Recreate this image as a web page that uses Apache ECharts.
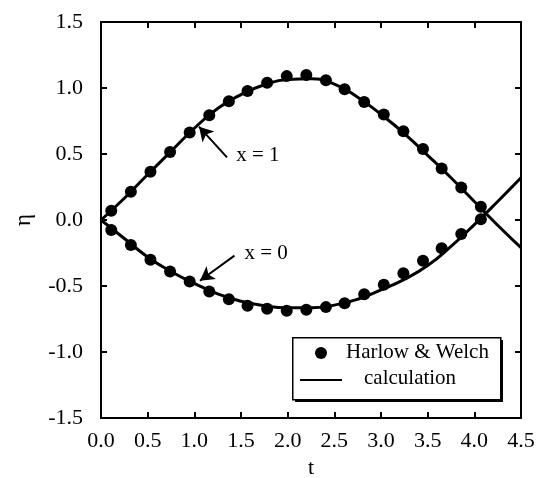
<!DOCTYPE html>
<html lang="en">
<head>
    <meta charset="UTF-8">
    <title>eta vs t</title>
    <script src="https://cdn.jsdelivr.net/npm/echarts@6/dist/echarts.min.js"></script>
    <style>
        body { margin: 0; background: #fff; }
    </style>
</head>
<body>
        <div id="main" style="width: 538px;height:478px;"></div>
        <script type="text/javascript">
            // measured points (Harlow & Welch)
            var tPts = [0.11, 0.32, 0.53, 0.74, 0.95, 1.16, 1.37, 1.57, 1.78, 1.99, 2.20, 2.41, 2.61, 2.82, 3.03, 3.24, 3.45, 3.65, 3.86, 4.07];
            var hwX1 = [0.07, 0.214, 0.365, 0.516, 0.663, 0.794, 0.90, 0.977, 1.04, 1.09, 1.098, 1.058, 0.99, 0.894, 0.799, 0.673, 0.537, 0.39, 0.247, 0.10];
            var hwX0 = [-0.076, -0.189, -0.302, -0.39, -0.466, -0.542, -0.60, -0.65, -0.673, -0.688, -0.68, -0.66, -0.63, -0.562, -0.491, -0.403, -0.308, -0.214, -0.106, 0.005];

            // calculation curves
            var tCalc = [0, 0.25, 0.5, 0.75, 1.0, 1.25, 1.5, 1.75, 2.0, 2.25, 2.5, 2.75, 3.0, 3.25, 3.5, 3.75, 4.0, 4.25, 4.5];
            var calcX1 = [0, 0.165, 0.345, 0.52, 0.695, 0.845, 0.95, 1.025, 1.065, 1.07, 1.03, 0.93, 0.80, 0.655, 0.49, 0.32, 0.14, -0.04, -0.21];
            var calcX0 = [0, -0.14, -0.28, -0.39, -0.48, -0.56, -0.615, -0.65, -0.665, -0.665, -0.645, -0.60, -0.53, -0.45, -0.345, -0.20, -0.035, 0.14, 0.32];

            // annotation arrows: [tail, tip] in data coords
            var arrowX1 = [[1.35, 0.475], [1.05, 0.707]];
            var arrowX0 = [[1.43, -0.27], [1.06, -0.46]];

            function pairs(xs, ys) {
                var out = [];
                for (var i = 0; i < xs.length; i++) out.push([xs[i], ys[i]]);
                return out;
            }

            var font = 'Liberation Serif';
            function axisCommon(o) {
                o.axisLine = { show: true, onZero: false, lineStyle: { color: '#000', width: 2 } };
                o.axisTick = { show: true, inside: true, length: 6, lineStyle: { color: '#000', width: 2 } };
                o.splitLine = { show: false };
                return o;
            }

            var myChart = echarts.init(document.getElementById('main'));
            var option = {
                animation: false,
                backgroundColor: '#fff',
                textStyle: { fontFamily: font, color: '#000' },
                grid: { left: 101, right: 17, top: 22, bottom: 60, outerBoundsMode: 'none', containLabel: false },
                xAxis: [
                    axisCommon({
                        type: 'value', min: 0, max: 4.5, interval: 0.5, position: 'bottom',
                        name: 't', nameLocation: 'middle', nameGap: 39,
                        nameTextStyle: { fontFamily: font, fontSize: 22, color: '#000' },
                        axisLabel: { fontFamily: font, fontSize: 22, color: '#000', margin: 12,
                            formatter: function (v) { return v.toFixed(1); } }
                    }),
                    axisCommon({
                        type: 'value', min: 0, max: 4.5, interval: 0.5, position: 'top',
                        axisLabel: { show: false }
                    })
                ],
                yAxis: [
                    axisCommon({
                        type: 'value', min: -1.5, max: 1.5, interval: 0.5, position: 'left',
                        name: 'η', nameLocation: 'middle', nameGap: 66,
                        nameTextStyle: { fontFamily: font, fontSize: 23, color: '#000' },
                        axisLabel: { fontFamily: font, fontSize: 22, color: '#000', margin: 18,
                            formatter: function (v) { return v.toFixed(1); } }
                    }),
                    axisCommon({
                        type: 'value', min: -1.5, max: 1.5, interval: 0.5, position: 'right',
                        axisLabel: { show: false }
                    })
                ],
                series: [
                    {
                        name: 'calculation', type: 'line', smooth: true, showSymbol: false,
                        data: pairs(tCalc, calcX1),
                        lineStyle: { color: '#000', width: 3 },
                        markLine: {
                            silent: true, symbol: ['none', 'arrow'], symbolSize: [12, 14],
                            lineStyle: { color: '#000', width: 2, type: 'solid' },
                            label: { show: false },
                            data: [
                                [{ coord: arrowX1[0] }, { coord: arrowX1[1] }],
                                [{ coord: arrowX0[0] }, { coord: arrowX0[1] }]
                            ]
                        },
                        markPoint: {
                            symbol: 'circle', symbolSize: 0,
                            label: { show: true, position: 'inside', fontFamily: font, fontSize: 21, color: '#000',
                                formatter: function (p) { return p.name; } },
                            data: [
                                { name: 'x = 1', coord: [1.68, 0.49] },
                                { name: 'x = 0', coord: [1.77, -0.25] }
                            ]
                        }
                    },
                    {
                        name: 'calculation', type: 'line', smooth: true, showSymbol: false,
                        data: pairs(tCalc, calcX0),
                        lineStyle: { color: '#000', width: 3 }
                    },
                    {
                        name: 'Harlow & Welch', type: 'scatter', symbolSize: 12,
                        itemStyle: { color: '#000', opacity: 1 },
                        data: pairs(tPts, hwX1)
                    },
                    {
                        name: 'Harlow & Welch', type: 'scatter', symbolSize: 12,
                        itemStyle: { color: '#000', opacity: 1 },
                        data: pairs(tPts, hwX0)
                    }
                ],
                graphic: [
                    {
                        type: 'rect', left: 295, top: 340, z: 10,
                        shape: { width: 208, height: 62 },
                        style: { fill: '#000' }
                    },
                    {
                        type: 'rect', left: 292, top: 337, z: 11,
                        shape: { width: 208, height: 62 },
                        style: { fill: '#fff', stroke: '#000', lineWidth: 1.5 }
                    },
                    {
                        type: 'circle', z: 12, shape: { cx: 321, cy: 353, r: 6 },
                        style: { fill: '#000' }
                    },
                    {
                        type: 'line', z: 12, shape: { x1: 300, y1: 380, x2: 342, y2: 380 },
                        style: { stroke: '#000', lineWidth: 2 }
                    },
                    {
                        type: 'text', z: 12, left: 346, top: 342,
                        style: { text: 'Harlow & Welch', font: '21px "Liberation Serif"', fill: '#000' }
                    },
                    {
                        type: 'text', z: 12, left: 364, top: 368,
                        style: { text: 'calculation', font: '21px "Liberation Serif"', fill: '#000' }
                    }
                ]
            };
            myChart.setOption(option);
        </script>

</body>
</html>
